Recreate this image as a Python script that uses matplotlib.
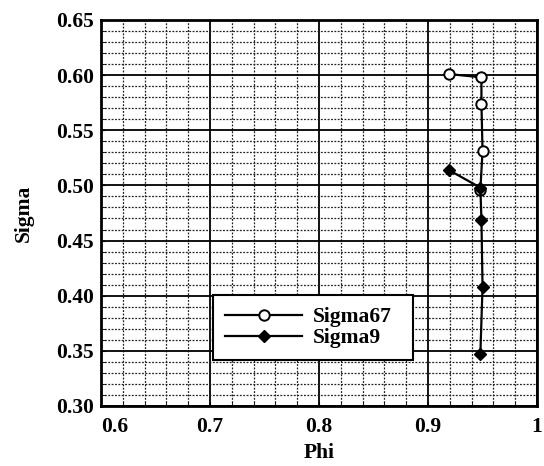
# Sigma vs Phi chart, scanned-figure style
import matplotlib
matplotlib.use("Agg")
import matplotlib.pyplot as plt
from matplotlib.ticker import MultipleLocator

# Data
phi67 = [0.919, 0.949, 0.949, 0.950, 0.948]
sigma67 = [0.601, 0.598, 0.574, 0.531, 0.496]
phi9 = [0.919, 0.948, 0.949, 0.950, 0.948]
sigma9 = [0.514, 0.498, 0.469, 0.408, 0.347]

xticks = [0.6, 0.7, 0.8, 0.9, 1.0]
xticklabels = ["0.6", "0.7", "0.8", "0.9", "1"]
yticks = [0.30, 0.35, 0.40, 0.45, 0.50, 0.55, 0.60, 0.65]
yticklabels = ["0.30", "0.35", "0.40", "0.45", "0.50", "0.55", "0.60", "0.65"]

plt.rcParams["font.family"] = ["Liberation Serif", "DejaVu Serif"]
plt.rcParams["font.weight"] = "bold"

fig = plt.figure(figsize=(5.44, 4.66), dpi=100)
ax = fig.add_axes([0.1857, 0.1288, 0.8015, 0.8283])

ax.plot(phi67, sigma67, color="black", lw=1.6, marker="o", ms=7.5,
        mfc="white", mec="black", mew=1.4, label="Sigma67")
ax.plot(phi9, sigma9, color="black", lw=1.6, marker="D", ms=6.5,
        mfc="black", mec="black", label="Sigma9")

ax.set_xlim(0.6, 1.0)
ax.set_ylim(0.30, 0.65)
ax.set_xticks(xticks)
ax.set_xticklabels(xticklabels)
ax.set_yticks(yticks)
ax.set_yticklabels(yticklabels)
ax.xaxis.set_minor_locator(MultipleLocator(0.02))
ax.yaxis.set_minor_locator(MultipleLocator(0.01))

ax.grid(which="major", color="black", lw=1.3)
ax.grid(which="minor", color="#222222", lw=0.9, ls=(0, (1.5, 1.2)))
ax.set_axisbelow(True)

ax.tick_params(which="both", direction="in", length=3, labelsize=15.5)
ax.tick_params(axis="x", pad=8)
ax.tick_params(axis="y", pad=5)
# first x label sits a bit right of the corner, clear of 0.30
ax.get_xticklabels()[0].set_horizontalalignment("left")
for s in ax.spines.values():
    s.set_linewidth(2)

ax.set_xlabel("Phi", fontsize=15.5, fontweight="bold", labelpad=4)
ax.set_ylabel("Sigma", fontsize=15.5, fontweight="bold", labelpad=16)

leg = ax.legend(loc="lower left", bbox_to_anchor=(0.257, 0.119, 0.459, 0.197),
                mode="expand", fontsize=15.5, frameon=True, fancybox=False,
                framealpha=1, edgecolor="black", handlelength=3.6,
                borderpad=0.55, labelspacing=0.05, handletextpad=0.5,
                borderaxespad=0)
leg.get_frame().set_linewidth(1.5)

fig.savefig("out.png", dpi=100)
